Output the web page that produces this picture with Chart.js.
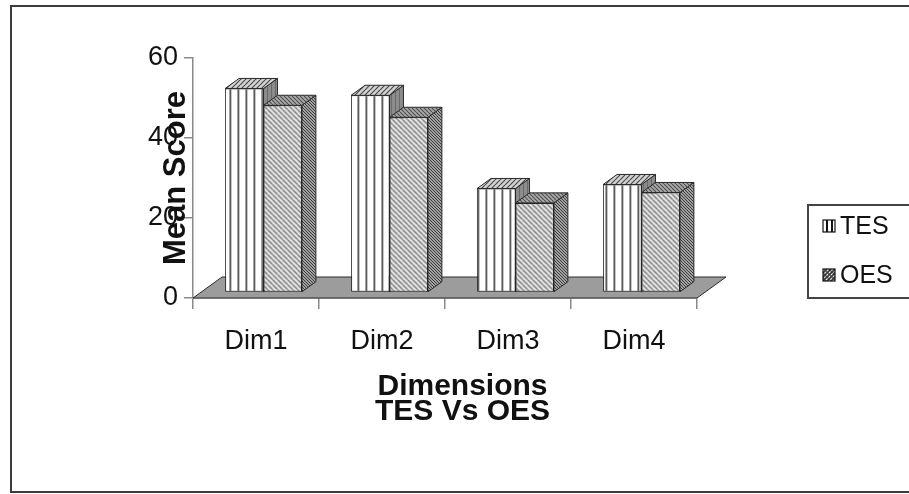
<!DOCTYPE html>
<html>
<head>
<meta charset="utf-8">
<title>TES Vs OES</title>
<script src="https://cdn.jsdelivr.net/npm/chart.js@4.4.1/dist/chart.umd.min.js"></script>
<style>
  html, body { margin: 0; padding: 0; background: #ffffff; }
  #wrap { width: 909px; height: 494px; position: relative; }
</style>
</head>
<body>
<div id="wrap"><canvas id="chart" width="909" height="494"></canvas></div>
<script>
// ---- data ----
const categories = ['Dim1', 'Dim2', 'Dim3', 'Dim4'];
const seriesNames = ['TES', 'OES'];
const tesScores = [51, 49.3, 26, 27];
const oesScores = [46.8, 43.8, 22.4, 25];
const yTicks = [0, 20, 40, 60];
const yTitle = 'Mean Score';
const xTitleLines = ['Dimensions', 'TES Vs OES'];

// ---- look ----
const FONT = '"Liberation Sans", Arial, Helvetica, sans-serif';
const DEPTH = { x: 29, y: -21 };      // full floor depth (oblique projection)
const BAR_NEAR = 0.26, BAR_FAR = 0.74; // bars sit in the middle of the floor depth

function makePattern(w, h, paint) {
  const c = document.createElement('canvas');
  c.width = w; c.height = h;
  const g = c.getContext('2d');
  paint(g, w, h);
  return g.createPattern(c, 'repeat');
}
function diag(g, size, dir, color, lw) {
  g.strokeStyle = color; g.lineWidth = lw;
  for (let k = -1; k <= 1; k++) {
    g.beginPath();
    if (dir > 0) { g.moveTo(k * size, size); g.lineTo(k * size + size, 0); }
    else { g.moveTo(k * size, 0); g.lineTo(k * size + size, size); }
    g.stroke();
  }
}

const tesFront = makePattern(8, 8, (g) => {
  g.fillStyle = '#ffffff'; g.fillRect(0, 0, 8, 8);
  g.fillStyle = '#2a2a2a'; g.fillRect(6, 0, 1, 8);
  g.fillStyle = '#9a9a9a'; g.fillRect(7, 0, 1, 8);
});
const tesTop = makePattern(5, 5, (g) => {
  g.fillStyle = '#d2d2d2'; g.fillRect(0, 0, 5, 5);
  diag(g, 5, 1, '#4a4a4a', 1.2);
});
const tesSide = makePattern(4, 4, (g) => {
  g.fillStyle = '#8c8c8c'; g.fillRect(0, 0, 4, 4);
  g.fillStyle = '#6a6a6a'; g.fillRect(3, 0, 1, 4);
});
const oesFront = makePattern(5, 5, (g) => {
  g.fillStyle = '#eeeeee'; g.fillRect(0, 0, 5, 5);
  diag(g, 5, -1, '#6a6a6a', 1.3);
});
const oesTop = makePattern(4, 4, (g) => {
  g.fillStyle = '#a8a8a8'; g.fillRect(0, 0, 4, 4);
  diag(g, 4, -1, '#4e4e4e', 1.1);
});
const oesSide = makePattern(3, 3, (g) => {
  g.fillStyle = '#a0a0a0'; g.fillRect(0, 0, 3, 3);
  g.fillStyle = '#3e3e3e'; g.fillRect(0, 0, 1, 1); g.fillRect(1, 1, 1, 1); g.fillRect(2, 2, 1, 1);
});
const faceFills = [
  { side: tesSide, top: tesTop, front: tesFront },
  { side: oesSide, top: oesTop, front: oesFront }
];

function poly(ctx, pts, fill) {
  ctx.beginPath();
  ctx.moveTo(pts[0][0], pts[0][1]);
  for (let i = 1; i < pts.length; i++) ctx.lineTo(pts[i][0], pts[i][1]);
  ctx.closePath();
  ctx.fillStyle = fill; ctx.fill();
  ctx.lineWidth = 1; ctx.strokeStyle = '#2a2a2a'; ctx.stroke();
}

// floor, bar sides/tops, then shift the front faces back into depth
const depthPlugin = {
  id: 'depth3d',
  beforeDatasetsDraw(chart) {
    const { ctx, chartArea: a, scales: { x, y } } = chart;
    const y0 = y.getPixelForValue(0);
    ctx.save();
    poly(ctx, [[a.left, y0], [a.right, y0], [a.right + DEPTH.x, y0 + DEPTH.y], [a.left + DEPTH.x, y0 + DEPTH.y]], '#9c9c9c');
    const nx = DEPTH.x * BAR_NEAR, ny = DEPTH.y * BAR_NEAR;
    const dx = DEPTH.x * (BAR_FAR - BAR_NEAR), dy = DEPTH.y * (BAR_FAR - BAR_NEAR);
    chart.data.datasets.forEach((ds, i) => {
      const meta = chart.getDatasetMeta(i);
      meta.data.forEach((bar) => {
        const p = bar.getProps(['x', 'y', 'base', 'width'], true);
        const l = p.x - p.width / 2 + nx, r = p.x + p.width / 2 + nx;
        const t = p.y + ny, b = p.base + ny;
        poly(ctx, [[r, t], [r + dx, t + dy], [r + dx, b + dy], [r, b]], faceFills[i].side);
        poly(ctx, [[l, t], [r, t], [r + dx, t + dy], [l + dx, t + dy]], faceFills[i].top);
      });
    });
    ctx.restore();
    ctx.save();
    ctx.translate(nx, ny);
  },
  afterDatasetsDraw(chart) {
    chart.ctx.restore();
  },
  afterDraw(chart) {
    const { ctx, chartArea: a } = chart;
    ctx.save();
    // outer frame
    ctx.strokeStyle = '#3c3c3c'; ctx.lineWidth = 2;
    ctx.strokeRect(11, 6, 910, 486);

    // axis titles
    ctx.fillStyle = '#111111';
    ctx.font = 'bold 31px ' + FONT;
    ctx.textAlign = 'center';
    ctx.textBaseline = 'middle';
    ctx.save();
    ctx.translate(176, (a.top + a.bottom) / 2);
    ctx.rotate(-Math.PI / 2);
    ctx.fillText(yTitle, 0, 0);
    ctx.restore();

    ctx.font = 'bold 30px ' + FONT;
    ctx.textBaseline = 'alphabetic';
    const cx = (a.left + a.right + DEPTH.x) / 2 + 3;
    ctx.fillText(xTitleLines[0], cx, 395);
    ctx.fillText(xTitleLines[1], cx, 420);

    // legend
    ctx.strokeStyle = '#444444'; ctx.lineWidth = 2;
    ctx.strokeRect(808, 205, 120, 93);
    ctx.font = '25px ' + FONT;
    ctx.textAlign = 'left';
    ctx.textBaseline = 'middle';
    const rows = [226, 275];
    seriesNames.forEach((name, i) => {
      const yy = rows[i];
      ctx.fillStyle = i === 0 ? '#ffffff' : faceFills[1].front;
      ctx.fillRect(823, yy - 6, 12, 12);
      if (i === 0) {
        ctx.fillStyle = '#111';
        ctx.fillRect(826, yy - 6, 2, 12);
        ctx.fillRect(831, yy - 6, 2, 12);
      } else {
        ctx.save();
        ctx.beginPath(); ctx.rect(823, yy - 6, 12, 12); ctx.clip();
        ctx.strokeStyle = '#333'; ctx.lineWidth = 1.6;
        for (let k = -8; k <= 12; k += 4) {
          ctx.beginPath(); ctx.moveTo(823 + k, yy + 6); ctx.lineTo(835 + k, yy - 6); ctx.stroke();
        }
        ctx.restore();
      }
      ctx.strokeStyle = '#111'; ctx.lineWidth = 1.2;
      ctx.strokeRect(823, yy - 6, 12, 12);
      ctx.fillStyle = '#111111';
      ctx.fillText(name, 840, yy + 1);
    });
    ctx.restore();
  }
};

new Chart(document.getElementById('chart'), {
  type: 'bar',
  data: {
    labels: categories,
    datasets: [
      { label: seriesNames[0], data: tesScores, backgroundColor: tesFront,
        borderColor: '#222222', borderWidth: 1, borderSkipped: false },
      { label: seriesNames[1], data: oesScores, backgroundColor: oesFront,
        borderColor: '#222222', borderWidth: 1, borderSkipped: false }
    ]
  },
  options: {
    responsive: false,
    animation: false,
    events: [],
    layout: { padding: { left: 0, right: 212, top: 58, bottom: 116 } },
    datasets: { bar: { categoryPercentage: 0.61, barPercentage: 1.0 } },
    plugins: { legend: { display: false }, tooltip: { enabled: false }, title: { display: false } },
    scales: {
      x: {
        offset: true,
        grid: { offset: true, drawOnChartArea: false, tickLength: 11, color: '#8a8a8a', lineWidth: 1.5 },
        border: { color: '#8a8a8a', width: 1.5 },
        ticks: { font: { family: FONT, size: 27 }, color: '#111111', padding: 16, maxRotation: 0 },
        afterFit: (s) => { s.height = 80; }
      },
      y: {
        min: 0, max: 60,
        afterBuildTicks: (s) => { s.ticks = yTicks.map((v) => ({ value: v })); },
        grid: { drawOnChartArea: false, tickLength: 9, color: '#8a8a8a', lineWidth: 1.5 },
        border: { color: '#8a8a8a', width: 1.5 },
        ticks: { font: { family: FONT, size: 27 }, color: '#111111', padding: 6 },
        afterFit: (s) => { s.width = 193; }
      }
    }
  },
  plugins: [depthPlugin]
});
</script>
</body>
</html>
